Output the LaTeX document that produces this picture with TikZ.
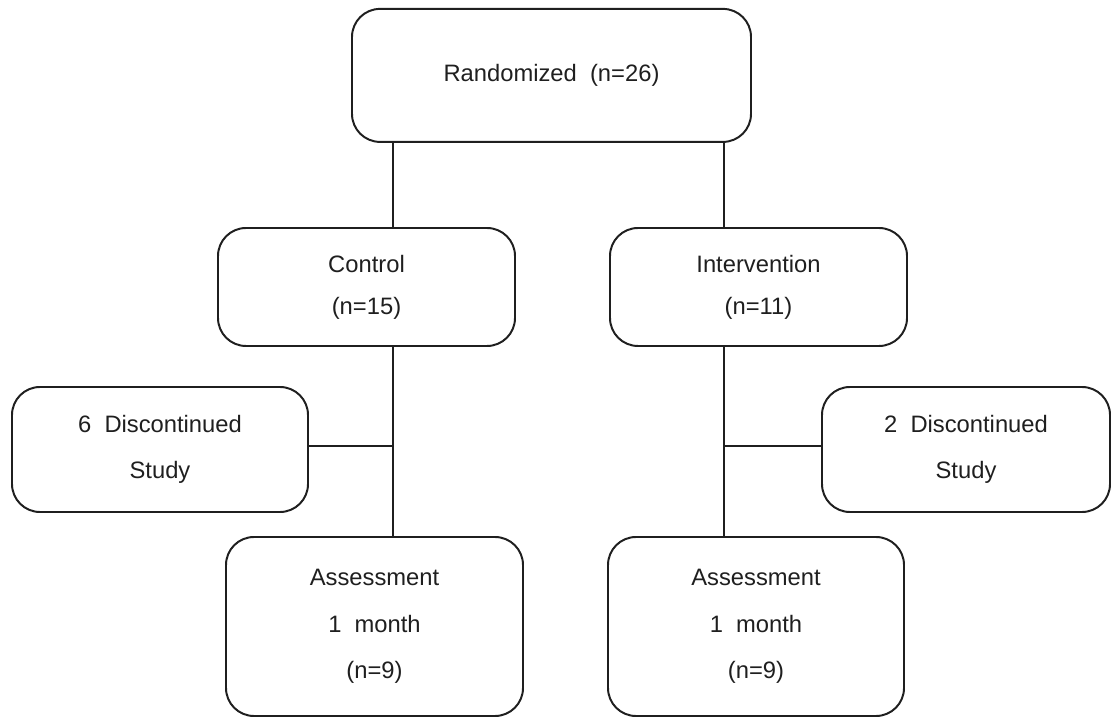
\documentclass[tikz,border=0pt]{standalone}
\usepackage{amsmath,amssymb}
\usepackage{tikz}
\usepackage{xcolor}
\usepackage{fontspec}
\setmainfont{Liberation Sans}

\begin{document}
\begin{tikzpicture}[
            flowbox/.style={draw=black!88, text=black!88, line width=1.4pt, rounded corners=0.7cm,
                align=center, inner sep=0pt, font=\fontsize{16.9}{33}\selectfont},
            armbox/.style={flowbox, font=\fontsize{16.9}{30}\selectfont},
            link/.style={draw=black!88, line width=1.4pt}
        ]
            \useasboundingbox (0,0) rectangle (27.775,17.925);

            \node[flowbox, minimum width=9.975cm, minimum height=3.325cm] (rand) at (13.7875,16.04) {Randomized~~(n=26)};

            \node[armbox, minimum width=7.425cm, minimum height=2.95cm] (ctrl) at (9.1625,10.75) {Control\\(n=15)};
            \node[armbox, minimum width=7.425cm, minimum height=2.95cm] (intv) at (18.9625,10.75) {Intervention\\(n=11)};

            \node[flowbox, minimum width=7.4cm, minimum height=3.125cm] (discL) at (4.0,6.6875) {6~~Discontinued\\Study};
            \node[flowbox, minimum width=7.2cm, minimum height=3.125cm] (discR) at (24.15,6.6875) {2~~Discontinued\\Study};

            \node[flowbox, minimum width=7.425cm, minimum height=4.475cm] (assessL) at (9.3625,2.2625) {Assessment\\1~~month\\(n=9)};
            \node[flowbox, minimum width=7.4cm, minimum height=4.475cm] (assessR) at (18.9,2.2625) {Assessment\\1~~month\\(n=9)};

            % draw connectors
            \coordinate (splitL) at (9.825,6.775);
            \coordinate (splitR) at (18.1,6.775);
            \draw[link] (rand.south -| splitL) -- (ctrl.north -| splitL);
            \draw[link] (rand.south -| splitR) -- (intv.north -| splitR);
            \draw[link] (ctrl.south -| splitL) -- (assessL.north -| splitL);
            \draw[link] (intv.south -| splitR) -- (assessR.north -| splitR);
            \draw[link] (discL.east |- splitL) -- (splitL);
            \draw[link] (splitR) -- (discR.west |- splitR);
        \end{tikzpicture}
\end{document}
